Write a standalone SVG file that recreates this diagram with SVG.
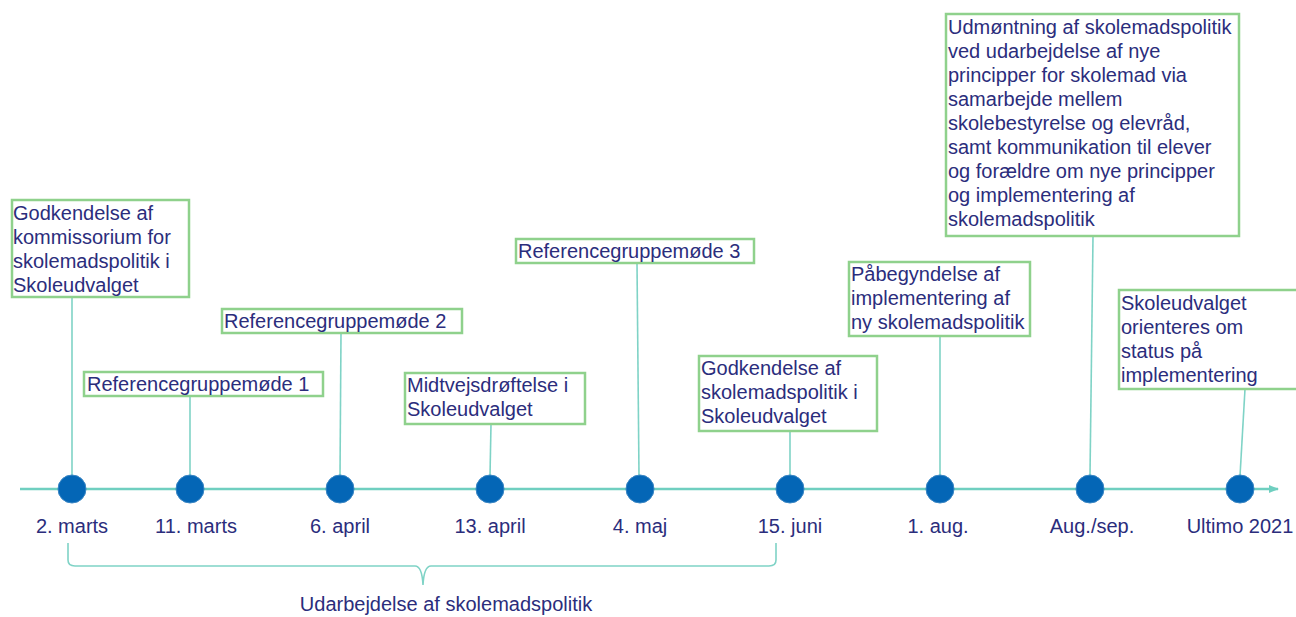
<svg xmlns="http://www.w3.org/2000/svg" width="1296" height="617" viewBox="0 0 1296 617">
<style>
.box{fill:#fff;stroke:#8fd18c;stroke-width:2.5}
.t{font-family:"Liberation Sans",Arial,sans-serif;font-size:20px;fill:#2b2d7c}
.d{font-family:"Liberation Sans",Arial,sans-serif;font-size:20px;fill:#2b2d7c;text-anchor:middle}
.c{stroke:#7fd3c6;stroke-width:1.6;fill:none}
.dot{fill:#0466b6;stroke:#3a86c4;stroke-width:1}
</style>
<defs>
<marker id="arr" markerWidth="10" markerHeight="8" refX="9" refY="4" orient="auto" markerUnits="userSpaceOnUse">
<path d="M0,0 L10,4 L0,8 Z" fill="#6fcfc0"/>
</marker>
</defs>
<rect width="1296" height="617" fill="#fff"/>
<g id="connectors">
<line x1="20" y1="489" x2="1278" y2="489" stroke="#6fcfc0" stroke-width="2.5" marker-end="url(#arr)"/>
<line class="c" x1="72" y1="297" x2="72" y2="476"/>
<line class="c" x1="190" y1="396" x2="190" y2="476"/>
<line class="c" x1="341" y1="333" x2="340" y2="476"/>
<line class="c" x1="491" y1="424" x2="490" y2="476"/>
<line class="c" x1="637" y1="263" x2="639" y2="476"/>
<line class="c" x1="790" y1="431" x2="790" y2="476"/>
<line class="c" x1="940" y1="336" x2="940" y2="476"/>
<line class="c" x1="1093" y1="236" x2="1090" y2="476"/>
<line class="c" x1="1245" y1="389" x2="1240" y2="476"/>
<path class="c" stroke-width="2" d="M68,543 L68,560 Q68,566 75,566 L415,566 Q422,566 423,585 Q424,566 431,566 L769,566 Q776,566 776,560 L776,543"/>
</g>
<g id="dots">
<circle class="dot" cx="72" cy="489" r="14"/>
<circle class="dot" cx="190" cy="489" r="14"/>
<circle class="dot" cx="340" cy="489" r="14"/>
<circle class="dot" cx="490" cy="489" r="14"/>
<circle class="dot" cx="640" cy="489" r="14"/>
<circle class="dot" cx="790" cy="489" r="14"/>
<circle class="dot" cx="940" cy="489" r="14"/>
<circle class="dot" cx="1090" cy="489" r="14"/>
<circle class="dot" cx="1240" cy="489" r="14"/>
</g>
<g id="dates">
<text class="d" x="72" y="533">2. marts</text>
<text class="d" x="196" y="533">11. marts</text>
<text class="d" x="340" y="533">6. april</text>
<text class="d" x="490" y="533">13. april</text>
<text class="d" x="640" y="533">4. maj</text>
<text class="d" x="790" y="533">15. juni</text>
<text class="d" x="938" y="533">1. aug.</text>
<text class="d" x="1092" y="533">Aug./sep.</text>
<text class="d" x="1240" y="533">Ultimo 2021</text>
</g>
<g id="n1">
<rect class="box" x="12" y="200" width="177" height="97"/>
<text class="t" x="13"><tspan x="13" y="220">Godkendelse af</tspan><tspan x="13" y="244">kommissorium for</tspan><tspan x="13" y="268">skolemadspolitik i</tspan><tspan x="13" y="292">Skoleudvalget</tspan></text>
</g>
<g id="n2">
<rect class="box" x="84" y="372" width="239" height="24"/>
<text class="t" x="87" y="391">Referencegruppemøde 1</text>
</g>
<g id="n3">
<rect class="box" x="222" y="309" width="240" height="24"/>
<text class="t" x="224" y="328">Referencegruppemøde 2</text>
</g>
<g id="n4">
<rect class="box" x="405" y="373" width="180" height="51"/>
<text class="t"><tspan x="407" y="392">Midtvejsdrøftelse i</tspan><tspan x="407" y="416">Skoleudvalget</tspan></text>
</g>
<g id="n5">
<rect class="box" x="516" y="239" width="238" height="24"/>
<text class="t" x="518" y="258">Referencegruppemøde 3</text>
</g>
<g id="n6">
<rect class="box" x="699" y="356" width="178" height="75"/>
<text class="t"><tspan x="701" y="375">Godkendelse af</tspan><tspan x="701" y="399">skolemadspolitik i</tspan><tspan x="701" y="423">Skoleudvalget</tspan></text>
</g>
<g id="n7">
<rect class="box" x="849" y="262" width="181" height="74"/>
<text class="t"><tspan x="851" y="281">Påbegyndelse af</tspan><tspan x="851" y="305">implementering af</tspan><tspan x="851" y="329">ny skolemadspolitik</tspan></text>
</g>
<g id="n8">
<rect class="box" x="946" y="14" width="293" height="222"/>
<text class="t"><tspan x="948" y="34">Udmøntning af skolemadspolitik</tspan><tspan x="948" y="58">ved udarbejdelse af nye</tspan><tspan x="948" y="82">principper for skolemad via</tspan><tspan x="948" y="106">samarbejde mellem</tspan><tspan x="948" y="130">skolebestyrelse og elevråd,</tspan><tspan x="948" y="154">samt kommunikation til elever</tspan><tspan x="948" y="178">og forældre om nye principper</tspan><tspan x="948" y="202">og implementering af</tspan><tspan x="948" y="226">skolemadspolitik</tspan></text>
</g>
<g id="n9">
<rect class="box" x="1119" y="290" width="190" height="99"/>
<text class="t"><tspan x="1121" y="310">Skoleudvalget</tspan><tspan x="1121" y="334">orienteres om</tspan><tspan x="1121" y="358">status på</tspan><tspan x="1121" y="382">implementering</tspan></text>
</g>
<g id="brace-label">
<text class="d" x="446" y="611">Udarbejdelse af skolemadspolitik</text>
</g>
</svg>
